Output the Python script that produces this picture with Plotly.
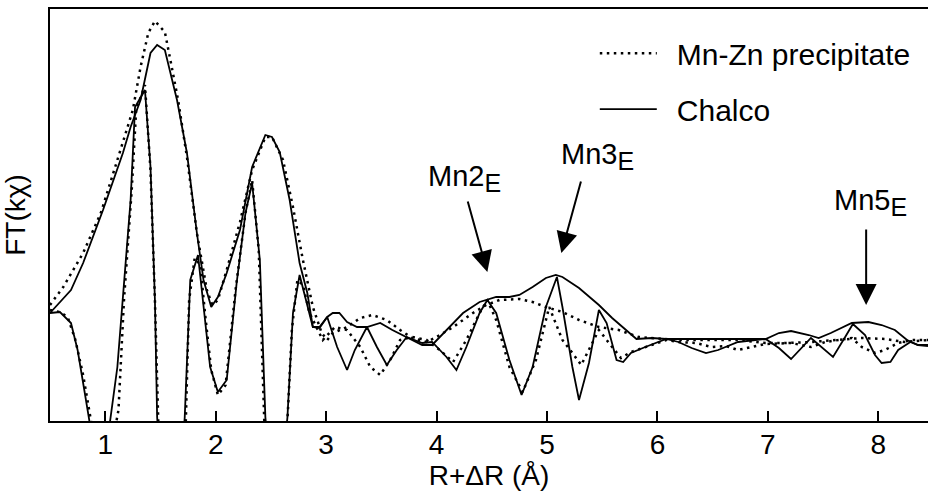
import plotly.graph_objects as go

# ---- data (R+dR in Angstrom, FT amplitude in arbitrary units) ----
chalco_mag_r = [0.50,0.69,0.80,0.98,1.16,1.23,1.32,1.41,1.47,1.54,1.65,1.74,1.83,1.89,1.96,2.02,2.10,2.22,2.33,2.45,2.51,2.58,2.67,2.76,2.83,2.88,2.94,3.01,3.06,3.12,3.19,3.28,3.37,3.49,3.60,3.73,3.87,3.96,4.09,4.24,4.39,4.54,4.66,4.75,4.87,4.99,5.08,5.14,5.29,5.47,5.59,5.71,5.81,5.95,6.08,6.31,6.55,6.98,7.10,7.21,7.37,7.46,7.57,7.76,7.91,8.03,8.15,8.26,8.36,8.45]
chalco_mag = [0.27,0.50,0.77,1.30,1.87,2.13,2.40,2.87,2.95,2.90,2.40,1.87,1.07,0.60,0.33,0.43,0.67,1.10,1.73,2.05,2.03,1.88,1.40,0.77,0.47,0.13,0.12,0.23,0.27,0.27,0.18,0.13,0.13,0.17,0.10,0.03,-0.05,-0.05,0.10,0.27,0.38,0.43,0.43,0.45,0.53,0.62,0.65,0.63,0.52,0.35,0.22,0.10,0.01,0.02,0.01,0.01,0.01,0.01,0.07,0.09,0.05,0.02,0.07,0.17,0.18,0.15,0.10,0.00,-0.05,-0.05]

chalco_im_r = [0.50,0.59,0.69,0.75,0.80,0.85,0.96,1.11,1.16,1.23,1.27,1.36,1.41,1.45,1.47,1.60,1.72,1.77,1.84,1.90,1.95,2.02,2.10,2.19,2.27,2.33,2.40,2.45,2.55,2.65,2.70,2.76,2.81,2.88,2.94,3.01,3.10,3.19,3.26,3.37,3.46,3.55,3.64,3.73,3.87,3.96,4.09,4.18,4.27,4.39,4.46,4.54,4.66,4.77,4.87,4.99,5.09,5.14,5.23,5.29,5.38,5.47,5.54,5.63,5.69,5.76,5.89,6.08,6.19,6.31,6.44,6.55,6.73,6.98,7.10,7.21,7.39,7.52,7.59,7.70,7.77,7.88,7.97,8.03,8.11,8.18,8.29,8.36,8.45]
chalco_im = [0.27,0.28,0.17,-0.10,-0.43,-0.77,-1.50,-0.27,0.40,1.40,2.33,2.50,1.73,0.40,-0.77,-2.80,-0.77,0.60,0.85,0.23,-0.27,-0.52,-0.40,0.57,1.27,1.57,0.80,-0.77,-2.00,-0.77,0.27,0.65,0.43,0.13,0.13,0.23,-0.07,-0.30,-0.10,0.13,-0.07,-0.25,-0.10,0.03,-0.03,-0.02,-0.17,-0.30,-0.07,0.27,0.40,0.27,-0.20,-0.55,-0.27,0.33,0.63,0.33,-0.27,-0.60,-0.23,0.30,0.17,-0.20,-0.22,-0.13,-0.07,0.01,-0.02,-0.08,-0.13,-0.10,-0.02,0.01,-0.08,-0.19,0.02,-0.10,-0.17,0.03,0.16,0.05,-0.15,-0.23,-0.22,-0.10,-0.02,-0.05,-0.06]

mnzn_mag_r = [0.50,0.62,0.80,0.96,1.11,1.25,1.32,1.39,1.45,1.54,1.59,1.66,1.74,1.83,1.92,1.97,2.02,2.10,2.22,2.33,2.45,2.51,2.61,2.70,2.79,2.88,2.96,3.01,3.06,3.19,3.31,3.42,3.55,3.67,3.78,3.91,4.00,4.15,4.33,4.45,4.57,4.75,4.87,4.99,5.14,5.29,5.47,5.65,5.83,6.04,6.19,6.49,6.73,6.98,7.16,7.39,7.64,7.85,8.06,8.24,8.45]
mnzn_mag = [0.35,0.53,0.87,1.27,1.80,2.30,2.73,3.07,3.19,3.08,2.80,2.40,1.83,1.07,0.50,0.35,0.40,0.70,1.18,1.70,2.03,2.03,1.80,1.33,0.80,0.33,0.07,0.00,0.07,0.13,0.22,0.25,0.20,0.10,0.02,-0.02,0.03,0.13,0.27,0.35,0.40,0.41,0.38,0.33,0.28,0.20,0.13,0.10,0.03,0.01,0.00,0.00,0.00,-0.03,-0.03,-0.02,0.00,0.02,0.01,-0.02,0.00]

mnzn_im_r = [0.50,0.59,0.66,0.73,0.80,0.87,0.97,1.12,1.17,1.24,1.28,1.36,1.41,1.45,1.48,1.61,1.73,1.76,1.81,1.86,1.91,1.96,2.02,2.09,2.18,2.27,2.33,2.39,2.44,2.55,2.65,2.69,2.74,2.79,2.85,2.97,3.08,3.19,3.31,3.40,3.49,3.58,3.67,3.78,3.91,4.03,4.15,4.27,4.39,4.46,4.54,4.66,4.78,4.90,5.02,5.14,5.23,5.31,5.41,5.47,5.59,5.67,5.76,5.89,6.08,6.19,6.35,6.49,6.62,6.73,6.85,6.98,7.21,7.39,7.52,7.64,7.76,7.85,7.97,8.06,8.18,8.30,8.45]
mnzn_im = [0.30,0.28,0.23,0.00,-0.35,-0.80,-1.60,-0.70,0.40,1.50,2.30,2.55,1.70,0.40,-0.80,-2.90,-0.80,0.40,0.82,0.75,0.20,-0.30,-0.55,-0.45,0.50,1.27,1.60,0.90,-0.80,-2.10,-0.80,0.10,0.60,0.55,0.27,0.00,0.13,0.10,-0.07,-0.27,-0.35,-0.20,0.00,0.03,0.00,-0.10,-0.22,0.00,0.27,0.40,0.20,-0.27,-0.52,-0.20,0.33,0.00,-0.13,-0.25,-0.03,0.10,-0.07,-0.18,-0.12,-0.07,0.00,-0.02,-0.03,-0.07,-0.06,-0.10,-0.07,-0.04,-0.03,-0.07,-0.02,0.00,0.02,-0.07,-0.13,-0.10,-0.03,0.00,0.00]

tick_vals = [1, 2, 3, 4, 5, 6, 7, 8]
series_names = ["\u2002Mn-Zn precipitate", "\u2002Chalco"]
peak_labels = ["Mn2<sub><span style='font-size:25px'>E</span></sub>",
               "Mn3<sub><span style='font-size:25px'>E</span></sub>",
               "Mn5<sub><span style='font-size:25px'>E</span></sub>"]
peak_tips_r = [4.46, 5.13, 7.89]
peak_tips_y = [0.68, 0.87, 0.35]

FONT = "Liberation Sans, Arial, sans-serif"
DOT = "2.5px,4.5px"

fig = go.Figure()
fig.add_trace(go.Scatter(x=mnzn_mag_r, y=mnzn_mag, mode="lines", name=series_names[0],
                         legendgroup="a", line=dict(color="black", width=2.5, dash=DOT)))
fig.add_trace(go.Scatter(x=mnzn_im_r, y=mnzn_im, mode="lines", name=series_names[0],
                         legendgroup="a", showlegend=False,
                         line=dict(color="black", width=2.5, dash=DOT)))
fig.add_trace(go.Scatter(x=chalco_mag_r, y=chalco_mag, mode="lines", name=series_names[1],
                         legendgroup="b", line=dict(color="black", width=1.8)))
fig.add_trace(go.Scatter(x=chalco_im_r, y=chalco_im, mode="lines", name=series_names[1],
                         legendgroup="b", showlegend=False,
                         line=dict(color="black", width=1.8)))

# arrows
arrow_off = [(-20, -72), (20, -73), (0, -77)]
for xr, yv, (ax, ay) in zip(peak_tips_r, peak_tips_y, arrow_off):
    fig.add_annotation(x=xr, y=yv, xref="x", yref="y", text="", showarrow=True,
                       ax=ax, ay=ay, arrowhead=2, arrowsize=2.1, arrowwidth=2,
                       arrowcolor="black", standoff=0)

# labels
label_pos = [(3.90, 1.62), (5.11, 1.84), (7.58, 1.38)]
for txt, (xr, yv) in zip(peak_labels, label_pos):
    fig.add_annotation(x=xr, y=yv, xref="x", yref="y", text=txt, showarrow=False,
                       xanchor="left", yanchor="middle",
                       font=dict(family=FONT, size=29, color="black"))

fig.update_layout(
    width=928, height=498,
    margin=dict(l=50, r=0, t=9, b=77),
    paper_bgcolor="white", plot_bgcolor="white",
    font=dict(family=FONT, color="black"),
    legend=dict(x=0.6205, y=0.956, xanchor="left", yanchor="top",
                itemwidth=57, tracegroupgap=14, bgcolor="rgba(0,0,0,0)",
                font=dict(family=FONT, size=30, color="black")),
    xaxis=dict(range=[0.5, 8.45], tickvals=tick_vals, ticks="inside", ticklen=10,
               tickwidth=1.5, tickcolor="black", showline=True, linecolor="black",
               linewidth=2, mirror=True, showgrid=False, zeroline=False,
               ticklabelstandoff=-3,
               tickfont=dict(family=FONT, size=28, color="black"),
               title=dict(text="R+ΔR (Å)", font=dict(family=FONT, size=28, color="black"),
                          standoff=6)),
    yaxis=dict(range=[-0.81, 3.31], showticklabels=False, ticks="", showline=True,
               linecolor="black", linewidth=2, mirror=False, showgrid=False,
               zeroline=False,
               title=dict(text="FT(kχ)", font=dict(family=FONT, size=28, color="black"),
                          standoff=14)),
)

fig.write_html("out.html", config={"displayModeBar": False},
               post_script="document.body.style.margin='0px';")
